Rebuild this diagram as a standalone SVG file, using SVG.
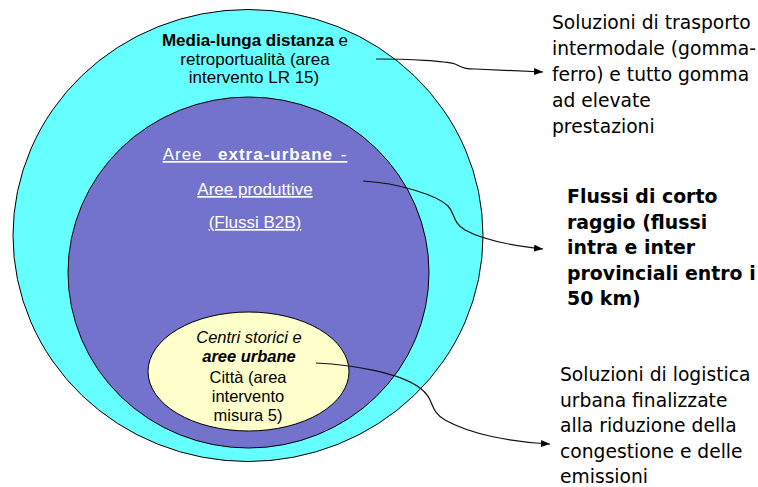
<svg xmlns="http://www.w3.org/2000/svg" width="758" height="487" viewBox="0 0 758 487">
<style>
  text { font-family: "Liberation Sans", Arial, sans-serif; fill: #000; }
  .ring { stroke: #000; stroke-width: 1; }
  .outer { fill: #66FFFF; }
  .middle { fill: #7373CD; }
  .inner { fill: #FFFFCC; }
  .t17 { font-size: 17px; }
  .t16 { font-size: 16.5px; }
  .mid { font-size: 17px; fill: #fff; text-decoration: underline; }
  .mid tspan { fill: #fff; }
  .wide { letter-spacing: 1px; word-spacing: 2px; }
  .side { font-family: "DejaVu Sans", "Liberation Sans", sans-serif; font-size: 18.7px; }
  .sideb { font-family: "DejaVu Sans", "Liberation Sans", sans-serif; font-size: 18.9px; font-weight: bold; }
  .b { font-weight: bold; }
  .i { font-style: italic; }
  .conn { fill: none; stroke: #111; stroke-width: 1.2; }
</style>
<defs>
  <marker id="arrow" markerUnits="userSpaceOnUse" markerWidth="10" markerHeight="8" refX="9" refY="3.5" orient="auto">
    <path d="M0,0 L9,3.5 L0,7 z" fill="#000"/>
  </marker>
</defs>
<rect width="758" height="487" fill="#fff"/>
<g id="outer-ring">
  <ellipse class="ring outer" cx="248" cy="235.5" rx="235" ry="226"/>
  <text class="t17" text-anchor="middle"><tspan x="255" y="46"><tspan class="b">Media-lunga distanza</tspan> e</tspan><tspan x="255" y="65">retroportualità (area</tspan><tspan x="254" y="83">intervento LR 15)</tspan></text>
</g>
<g id="middle-ring">
  <ellipse class="ring middle" cx="248.5" cy="272.5" rx="180.5" ry="175.5"/>
  <text class="mid wide" x="255" y="160" text-anchor="middle" xml:space="preserve">Aree  <tspan class="b">extra-urbane</tspan> -</text>
  <text class="mid" text-anchor="middle"><tspan x="255" y="195">Aree produttive</tspan><tspan x="255" y="228">(Flussi B2B)</tspan></text>
</g>
<g id="inner-ring">
  <ellipse class="ring inner" cx="248.5" cy="371.5" rx="100.5" ry="59.5"/>
  <text class="t16" text-anchor="middle"><tspan class="i" x="249" y="343">Centri storici e</tspan><tspan class="b i" x="249" y="362">aree urbane</tspan><tspan x="248" y="383">Città (area</tspan><tspan x="248" y="402">intervento</tspan><tspan x="248" y="421">misura 5)</tspan></text>
</g>
<g id="label-intermodale">
  <text class="side"><tspan x="552" y="29">Soluzioni di trasporto</tspan><tspan x="552" y="55">intermodale (gomma-</tspan><tspan x="552" y="81">ferro) e tutto gomma</tspan><tspan x="552" y="107">ad elevate</tspan><tspan x="552" y="133">prestazioni</tspan></text>
</g>
<g id="label-corto-raggio">
  <text class="sideb"><tspan x="567" y="203">Flussi di corto</tspan><tspan x="567" y="229">raggio (flussi</tspan><tspan x="567" y="254">intra e inter</tspan><tspan x="567" y="280">provinciali entro i</tspan><tspan x="567" y="305">50 km)</tspan></text>
</g>
<g id="label-logistica">
  <text class="side"><tspan x="560" y="381">Soluzioni di logistica</tspan><tspan x="560" y="407">urbana finalizzate</tspan><tspan x="560" y="432">alla riduzione della</tspan><tspan x="560" y="458">congestione e delle</tspan><tspan x="560" y="483">emissioni</tspan></text>
</g>
<g id="connectors">
  <path class="conn" marker-end="url(#arrow)" d="M376,59 C410,59 445,61 455,64 C462,67 463,69 475,69 C500,70 525,71 543,72"/>
  <path class="conn" marker-end="url(#arrow)" d="M363,181 C400,183 438,196 448,206 C455,213 452,222 465,230 C485,241 515,246 543,249"/>
  <path class="conn" marker-end="url(#arrow)" d="M316,363 C355,365 400,373 420,388 C436,400 428,410 445,420 C470,434 510,442 550,444"/>
</g>
</svg>
